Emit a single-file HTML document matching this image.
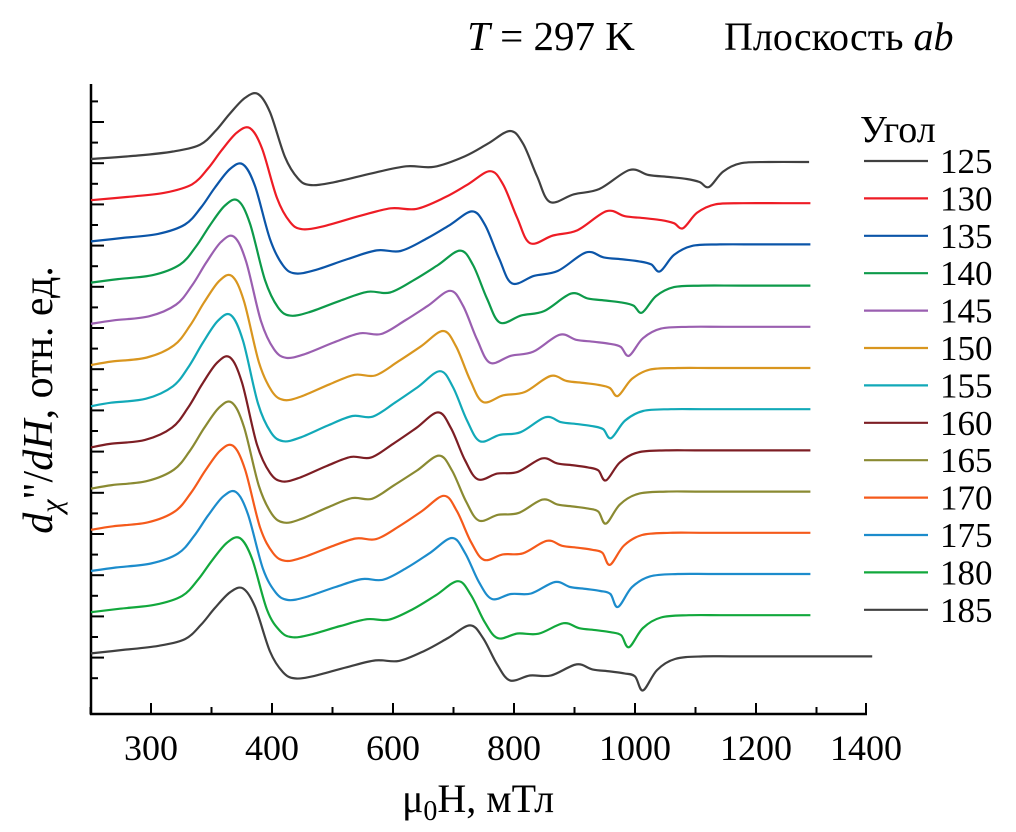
<!DOCTYPE html>
<html><head><meta charset="utf-8"><style>
body{margin:0;background:#fff;}
svg{display:block;font-family:"Liberation Serif",serif;}
</style></head><body>
<svg id="chart" width="1016" height="832" viewBox="0 0 1016 832" xmlns="http://www.w3.org/2000/svg">
<g id="axes"></g>
<g id="series"></g>
<g id="legend"></g>
<text x="551" y="50" font-size="41" text-anchor="middle"><tspan font-style="italic">T</tspan> = 297 K</text>
<text x="724" y="50" font-size="40">Плоскость <tspan font-style="italic">ab</tspan></text>
<text x="478" y="812" font-size="40" text-anchor="middle">μ<tspan font-size="28" dy="8">0</tspan><tspan dy="-8">H, мТл</tspan></text>
<text transform="translate(52,400) rotate(-90)" font-size="42" text-anchor="middle"><tspan font-style="italic">d</tspan><tspan font-style="italic" font-size="30" dy="9">χ</tspan><tspan dy="-9">"/</tspan><tspan font-style="italic">dH</tspan>, отн. ед.</text>
</svg>
<script>
const angles=["125","130","135","140","145","150","155","160","165","170","175","180","185"];
const colors=["#404040","#ee1c25","#0b55a8","#0d9a4a","#9a5fb0","#d9961f","#12a9b8","#7d1e24","#8a8a32","#f55a1b","#1c8ccc","#12a83c","#404040"];
const peak1Field=[388.4,381.8,376.0,371.9,368.6,366.9,366.1,365.3,366.9,367.8,370.2,373.6,376.0];
const peak2Field=[596.7,580.2,565.3,555.4,547.1,541.3,538.8,537.2,538.0,542.1,548.8,553.7,563.6];
const dipField=[761.2,739.7,720.7,705.8,695.0,685.9,680.2,676.0,676.0,679.3,685.9,695.0,706.6];
const peak1Amp=[65,72,77,82,87,89,91,90,86,84,79,74,65];
const min1Amp=[-26,-29,-32,-33,-34,-35,-35,-34,-34,-31,-29,-25,-25];
const peak2Amp=[28,29,30,32,33,34,35,35,33,34,33,31,28];
const min2Amp=[-43,-43,-42,-40,-39,-37,-35,-32,-32,-30,-28,-26,-27];
const dipAmp=[-28,-28,-30,-30,-32,-31,-32,-33,-35,-35,-36,-35,-37];
const endField=[845,845,845,845,845,845,845,845,845,845,845,845,896];
const xTickValues=[300,400,500,600,700,800,900];
const xTickLabels=["300","400","600","800","1000","1200","1400"];
const legendTitle="Угол";

const NS="http://www.w3.org/2000/svg";
const X0=151,XS=1.21;
function xScale(v){return X0+(v-300)*XS;}
const BASE0=159,STEP=41.2;
function yScale(i,dy){return BASE0+STEP*i-dy;}
function mk(tag,attrs,parent){const e=document.createElementNS(NS,tag);for(const k in attrs)e.setAttribute(k,attrs[k]);parent.appendChild(e);return e;}

const axes=document.getElementById('axes');
let l=mk('line',{x1:91,y1:84,x2:91,y2:715,stroke:'#000','stroke-width':2.5},axes);


l=mk('line',{x1:90,y1:714,x2:867,y2:714,stroke:'#000','stroke-width':2.5},axes);


xTickValues.forEach((v,i)=>{
  const x=Math.min(xScale(v),866);
  const t=mk('line',{x1:x,y1:714,x2:x,y2:703,stroke:'#000','stroke-width':2},axes);
  
  
  if(i<xTickValues.length-1){
    const mx=xScale(v+50);
    const m=mk('line',{x1:mx,y1:714,x2:mx,y2:707,stroke:'#000','stroke-width':2},axes);
    
    
  }
  if(i===0){
    const mx=xScale(v-50);
    const m=mk('line',{x1:mx,y1:714,x2:mx,y2:707,stroke:'#000','stroke-width':2},axes);
    
    
  }
  const tx=mk('text',{x:x,y:760,'font-size':36,'text-anchor':'middle'},axes);
  tx.textContent=xTickLabels[i];
  
  
});
for(let k=-1;k<14;k++){
  const y=122+STEP*k;
  if(y>88&&y<712){
    const t=mk('line',{x1:91,y1:y,x2:104,y2:y,stroke:'#000','stroke-width':2},axes);
    
    
  }
  const ym=y+STEP/2;
  if(ym>88&&ym<712){
    const m=mk('line',{x1:91,y1:ym,x2:98,y2:ym,stroke:'#000','stroke-width':2},axes);
    
    
  }
}

function pathFrom(pts){
  let d='M'+pts[0][0].toFixed(1)+','+pts[0][1].toFixed(1);
  for(let i=0;i<pts.length-1;i++){
    const p0=pts[i-1]||pts[i],p1=pts[i],p2=pts[i+1],p3=pts[i+2]||p2;
    const c1=[p1[0]+(p2[0]-p0[0])/6,p1[1]+(p2[1]-p0[1])/6];
    const c2=[p2[0]-(p3[0]-p1[0])/6,p2[1]-(p3[1]-p1[1])/6];
    d+=' C'+c1[0].toFixed(1)+','+c1[1].toFixed(1)+' '+c2[0].toFixed(1)+','+c2[1].toFixed(1)+' '+p2[0].toFixed(1)+','+p2[1].toFixed(1);
  }
  return d;
}
const series=document.getElementById('series');
const legend=document.getElementById('legend');
angles.forEach((ang,i)=>{
  const P1=xScale(peak1Field[i]),P2=xScale(peak2Field[i]),C=xScale(dipField[i]),E=xScale(endField[i]);
  const a1=peak1Amp[i],m1=min1Amp[i],a2=peak2Amp[i],m2=min2Amp[i],dp=dipAmp[i];
  const M2=P2+40, span=C-M2;
  const L1=P1+52, L2=P2-45, gap=L2-L1;
  const raw=[
    [91,0],[P1-120,3.5],[P1-85,7.5],[P1-58,0.22*a1],[P1-42,0.44*a1],[P1-28,0.7*a1],[P1-13,0.94*a1],[P1,a1],[P1+12,0.72*a1],[P1+27,0.03*a1],
    [P1+40,0.75*m1],[L1,m1],[L1+0.15*gap,0.9*m1],[L1+0.4*gap,0.55*m1],[L1+0.62*gap,0.28*m1],[L1+0.8*gap,0.3*m1],
    [L2,0.1*a2],[P2-22,0.55*a2],[P2,a2],[P2+13,0.55*a2],[P2+27,0.4*m2],[M2,m2],
    [M2+0.15*span,0.82*m2],[M2+0.31*span,(m2-11)/2-3],[M2+0.5*span,-11],[M2+0.62*span,-16],
    [M2+0.75*span,-18],[M2+0.86*span,-20],[M2+0.94*span,-23],[C,dp],[C+14,0.45*dp],[C+32,0.15*dp],
    [C+60,-3],[C+100,-3],[E,-3]
  ];
  const pts=[];
  raw.forEach(p=>{ if(!pts.length||p[0]>pts[pts.length-1][0]+2) pts.push([p[0],yScale(i,p[1])]); });
  const path=mk('path',{d:pathFrom(pts),fill:'none',stroke:colors[i],'stroke-width':2.2,'stroke-linejoin':'round'},series);
  
  
  const ly=161+37.4*i;
  const ll=mk('line',{x1:864,y1:ly,x2:928,y2:ly,stroke:colors[i],'stroke-width':2.2},legend);
  
  
  const lt=mk('text',{x:940,y:ly+12,'font-size':35},legend);
  lt.textContent=ang;
  
  
});
const lgT=mk('text',{x:860,y:142,'font-size':38},legend);
lgT.textContent=legendTitle;


</script>
</body></html>
